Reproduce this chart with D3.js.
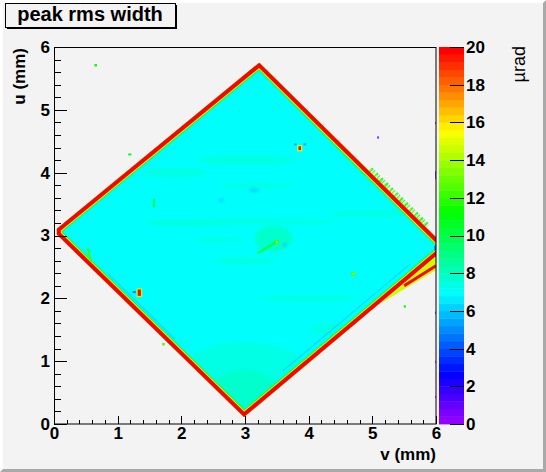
<!DOCTYPE html>
<html>
<head>
<meta charset="utf-8">
<script src="https://cdn.jsdelivr.net/npm/d3@7"></script>
<style>
  body { margin: 0; background: #f3f3f3; }
  svg { display: block; }
</style>
</head>
<body>
<svg id="chart" width="546" height="472"></svg>
<script>
// ---- data (v, u in mm, z in µrad) ----
// outline of the scanned crystal face
const cornerV = [0.045, 3.225, 6.16, 2.984, 0.045];
const cornerU = [3.109, 5.751, 2.81, 0.11, 3.014];
const baseZ = 7.0;
// rim values, outside going in: red edge, yellow, green, greenish tint
const rimZ = [20, 14.5, 11, 7.3];

// soft patches inside the face: centre, half size, value
const patchV  = [2.2, 2.6, 3.0, 3.45, 3.0, 4.0, 3.0, 3.0, 3.2, 5.0, 3.0, 1.9, 4.6, 3.15, 2.63, 3.63];
const patchU  = [3.2, 2.93, 3.22, 2.95, 2.6, 2.0, 0.95, 4.2, 3.8, 3.35, 0.55, 4.0, 1.5, 3.72, 3.56, 2.85];
const patchDV = [0.75, 0.4, 1.5, 0.3, 0.5, 0.8, 0.9, 0.8, 0.6, 0.7, 0.5, 0.5, 0.6, 0.08, 0.04, 0.04];
const patchDU = [0.04, 0.04, 0.05, 0.2, 0.06, 0.05, 0.35, 0.08, 0.04, 0.05, 0.3, 0.08, 0.1, 0.03, 0.03, 0.03];
const patchZ  = [7.6, 7.4, 7.4, 7.6, 7.4, 7.4, 7.4, 7.4, 7.4, 7.4, 7.6, 7.4, 7.4, 6.3, 6.3, 6.0];

// thin streaks: start, end, value
const streakV1 = [3.50, 0.53, 1.57, 0.85, 3.6];
const streakU1 = [2.90, 2.80, 3.58, 2.39, 0.85];
const streakV2 = [3.20, 0.58, 1.57, 1.90, 5.6];
const streakU2 = [2.72, 2.58, 3.45, 1.35, 2.55];
const streakZ  = [10.5, 12, 10, 6.2, 6.3];

// hot and cold spots: centre, full size, value
const spotV  = [3.86, 3.86, 3.79, 3.94, 1.34, 1.34, 1.26, 4.70, 4.70, 0.655, 5.09, 1.72, 5.51, 1.19, 3.50, 3.50,
                1.51, 2.54, 2.80, 5.995, 5.995, 5.995, 5.995, 5.995, 5.99];
const spotU  = [4.39, 4.39, 4.45, 4.45, 2.09, 2.09, 2.10, 2.39, 2.39, 5.71, 4.56, 1.27, 1.87, 4.29, 2.90, 2.89,
                5.995, 5.995, 5.995, 4.79, 3.96, 1.77, 0.99, 0.43, 2.80];
const spotDV = [0.08, 0.04, 0.04, 0.04, 0.09, 0.05, 0.05, 0.06, 0.03, 0.04, 0.025, 0.04, 0.035, 0.05, 0.05, 0.03,
                0.02, 0.02, 0.02, 0.012, 0.012, 0.012, 0.012, 0.012, 0.025];
const spotDU = [0.10, 0.06, 0.03, 0.03, 0.14, 0.10, 0.03, 0.06, 0.03, 0.04, 0.035, 0.04, 0.035, 0.03, 0.06, 0.03,
                0.012, 0.012, 0.012, 0.03, 0.13, 0.04, 0.03, 0.03, 0.08];
const spotZ  = [14.5, 20, 5.2, 5.2, 14, 20, 4.5, 12, 14.5, 11.5, 0.5, 12.5, 11, 11, 12, 15,
                0.5, 0.5, 0.5, 0.5, 0.5, 0.5, 0.5, 0.5, 3.5];

// fringe outside the upper-right edge, and the doubled lower-right edge
const fringeV = [4.95, 5.85];
const fringeU = [4.03, 3.13];
const lowFringeV = [5.1, 6.0, 6.0];
const lowFringeU = [1.90, 2.67, 2.45];
const lowLineV = [5.5, 6.0];
const lowLineU = [2.20, 2.52];

const axisTicks = [0, 1, 2, 3, 4, 5, 6];
const paletteTicks = [0, 2, 4, 6, 8, 10, 12, 14, 16, 18, 20];

// ---- scales ----
const svg = d3.select('#chart');
const font = 'Liberation Sans, Arial, Helvetica, sans-serif';

const x = d3.scaleLinear().domain([0, 6]).range([54, 436]);
const y = d3.scaleLinear().domain([0, 6]).range([424, 47]);
const zAxis = d3.scaleLinear().domain([0, 20]).range([424, 47]);

// ROOT "pretty" palette: 50 colours, hue 280 -> 0
const nColors = 50;
const palette = d3.range(nColors).map(i => d3.hsl(280 - (i + 1) * 280 / nColors, 1, 0.5).formatHex());
const color = d3.scaleQuantize().domain([0, 20]).range(palette);

// canvas border (raised)
svg.append('rect').attr('width', 546).attr('height', 472).attr('fill', '#f3f3f3');
svg.append('polygon').attr('points', '0,0 546,0 543,3 3,3 3,469 0,472').attr('fill', '#ffffff');
svg.append('polygon').attr('points', '546,0 546,472 0,472 3,469 543,469 543,3').attr('fill', '#a9a9a9');

const defs = svg.append('defs');
defs.append('clipPath').attr('id', 'frameClip')
  .append('rect').attr('x', 54).attr('y', 47).attr('width', 382).attr('height', 377);

const outline = d3.line().x((d, i) => x(cornerV[i])).y((d, i) => y(cornerU[i])).curve(d3.curveLinearClosed);
const outlinePath = outline(cornerV);
defs.append('clipPath').attr('id', 'faceClip').append('path').attr('d', outlinePath);
defs.append('filter').attr('id', 'soft').attr('x', '-20%').attr('y', '-20%').attr('width', '140%').attr('height', '140%')
  .append('feGaussianBlur').attr('stdDeviation', 1.5);

const plot = svg.append('g').attr('clip-path', 'url(#frameClip)');

// outer fringes (drawn under the face)
const fringe = plot.append('g');
fringe.append('line')
  .attr('x1', x(fringeV[0])).attr('y1', y(fringeU[0])).attr('x2', x(fringeV[1])).attr('y2', y(fringeU[1]))
  .attr('stroke', color(11)).attr('stroke-width', 9).attr('stroke-dasharray', '2 1.5 1 2.5')
  .attr('stroke-opacity', 0.85);
fringe.append('line')
  .attr('x1', x(fringeV[0])).attr('y1', y(fringeU[0])).attr('x2', x(fringeV[1])).attr('y2', y(fringeU[1]))
  .attr('stroke', color(14)).attr('stroke-width', 5).attr('stroke-dasharray', '1 3');
fringe.append('polygon')
  .attr('points', lowFringeV.map((v, i) => x(v) + ',' + y(lowFringeU[i])).join(' '))
  .attr('fill', color(14.5));
fringe.append('line')
  .attr('x1', x(lowLineV[0])).attr('y1', y(lowLineU[0])).attr('x2', x(lowLineV[1])).attr('y2', y(lowLineU[1]))
  .attr('stroke', color(20)).attr('stroke-width', 3);

// the face itself
const face = plot.append('g').attr('clip-path', 'url(#faceClip)');
face.append('path').attr('d', outlinePath).attr('fill', color(baseZ));

face.append('path').attr('d', outlinePath).attr('fill', 'none')
  .attr('stroke', color(rimZ[3])).attr('stroke-width', 14).attr('filter', 'url(#soft)');

const patches = face.append('g').attr('filter', 'url(#soft)');
patches.selectAll('ellipse')
  .data(patchV)
  .enter().append('ellipse')
  .attr('cx', (d, i) => x(patchV[i]))
  .attr('cy', (d, i) => y(patchU[i]))
  .attr('rx', (d, i) => x(patchDV[i]) - x(0))
  .attr('ry', (d, i) => y(0) - y(patchDU[i]))
  .attr('fill', (d, i) => color(patchZ[i]));

// rim: green, yellow, red going out
[[11.5, rimZ[2]], [10, rimZ[1]], [8, rimZ[0]]].forEach(function (r) {
  face.append('path').attr('d', outlinePath).attr('fill', 'none')
    .attr('stroke', color(r[1])).attr('stroke-width', r[0]).attr('stroke-linejoin', 'miter');
});

// streaks
plot.append('g').selectAll('line')
  .data(streakV1)
  .enter().append('line')
  .attr('x1', (d, i) => x(streakV1[i]))
  .attr('y1', (d, i) => y(streakU1[i]))
  .attr('x2', (d, i) => x(streakV2[i]))
  .attr('y2', (d, i) => y(streakU2[i]))
  .attr('stroke', (d, i) => color(streakZ[i]))
  .attr('stroke-width', (d, i) => streakZ[i] < 7 ? 1.5 : 2)
  .attr('stroke-opacity', (d, i) => streakZ[i] < 7 ? 0.7 : 1);

// spots
plot.append('g').selectAll('rect')
  .data(spotV)
  .enter().append('rect')
  .attr('x', (d, i) => x(spotV[i] - spotDV[i] / 2))
  .attr('y', (d, i) => y(spotU[i] + spotDU[i] / 2))
  .attr('width', (d, i) => Math.max(1, x(spotDV[i]) - x(0)))
  .attr('height', (d, i) => Math.max(1, y(0) - y(spotDU[i])))
  .attr('fill', (d, i) => color(spotZ[i]));

// frame
svg.append('rect').attr('x', 54.5).attr('y', 47.5).attr('width', 381.5).attr('height', 376.5)
  .attr('fill', 'none').attr('stroke', '#000').attr('stroke-width', 1);

function styleAxis(g) {
  g.attr('font-family', null).attr('font-size', null);
  g.select('.domain').remove();
  g.selectAll('line').attr('stroke', '#000').attr('shape-rendering', 'crispEdges');
  g.selectAll('text').attr('font-family', font).attr('font-size', 17)
    .attr('font-weight', 'bold').attr('fill', '#000');
}

const minorTicks = d3.range(0, 30.5).map(k => k / 5);

svg.append('g').attr('transform', 'translate(0,424)')
  .call(d3.axisBottom(x).tickValues(minorTicks).tickSize(-4).tickFormat(''))
  .call(styleAxis);
svg.append('g').attr('transform', 'translate(0,424)')
  .call(d3.axisBottom(x).tickValues(axisTicks).tickSize(-8).tickPadding(3).tickFormat(d3.format('d')))
  .call(styleAxis);

svg.append('g').attr('transform', 'translate(54,0)')
  .call(d3.axisLeft(y).tickValues(minorTicks).tickSize(-7).tickFormat(''))
  .call(styleAxis);
svg.append('g').attr('transform', 'translate(54,0)')
  .call(d3.axisLeft(y).tickValues(axisTicks).tickSize(-13).tickPadding(4).tickFormat(d3.format('d')))
  .call(styleAxis);

// palette
const bins = d3.range(nColors);
const binW = 20 / nColors;
svg.append('g').selectAll('rect')
  .data(bins)
  .enter().append('rect')
  .attr('x', 439)
  .attr('width', 25)
  .attr('y', d => zAxis((d + 1) * binW))
  .attr('height', d => zAxis(d * binW) - zAxis((d + 1) * binW) + 0.4)
  .attr('fill', d => palette[d]);

svg.append('g').attr('transform', 'translate(464,0)')
  .call(d3.axisRight(zAxis).tickValues(paletteTicks).tickSize(-14).tickPadding(2).tickFormat(d3.format('d')))
  .call(styleAxis);

// axis titles
svg.append('text').attr('x', 436).attr('y', 459.5).attr('text-anchor', 'end')
  .attr('font-family', font).attr('font-size', 17).attr('font-weight', 'bold').text('v (mm)');
svg.append('text').attr('transform', 'translate(25,48) rotate(-90)').attr('text-anchor', 'end')
  .attr('font-family', font).attr('font-size', 17).attr('font-weight', 'bold').text('u (mm)');
svg.append('text').attr('transform', 'translate(525,46) rotate(-90)').attr('text-anchor', 'end')
  .attr('font-family', font).attr('font-size', 18).text('µrad');

// title box
svg.append('rect').attr('x', 7).attr('y', 5).attr('width', 170).attr('height', 24).attr('fill', '#000');
svg.append('rect').attr('x', 5.5).attr('y', 3.5).attr('width', 170).attr('height', 24)
  .attr('fill', '#f3f3f3').attr('stroke', '#000').attr('stroke-width', 1);
svg.append('text').attr('x', 90).attr('y', 21).attr('text-anchor', 'middle')
  .attr('font-family', font).attr('font-size', 20).attr('font-weight', 'bold').text('peak rms width');
</script>
</body>
</html>
